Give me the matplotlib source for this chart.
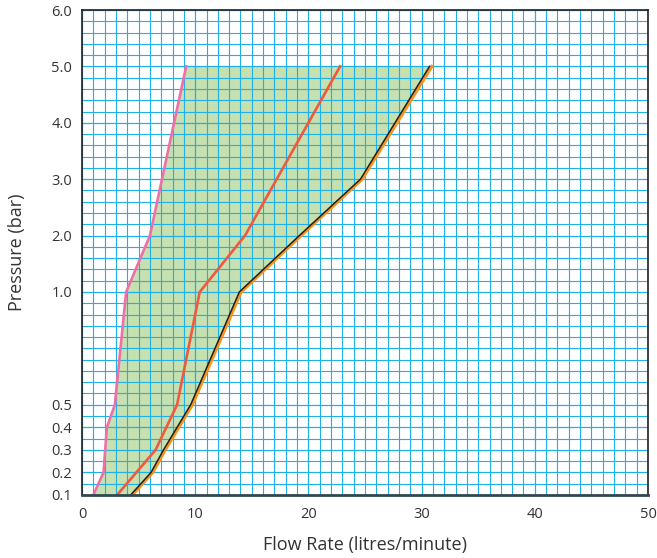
import numpy as np
import matplotlib
matplotlib.use("Agg")
import matplotlib.pyplot as plt
from matplotlib.ticker import FixedLocator, NullFormatter

# ---- data ----
pink_x = [1.0, 1.9, 2.2, 2.9, 3.9, 6.0, 9.2]
pink_p = [0.1, 0.2, 0.4, 0.5, 1.0, 2.0, 5.0]

red_x = [3.1, 6.5, 8.4, 10.4, 14.4, 22.8]
red_p = [0.1, 0.3, 0.5, 1.0, 2.0, 5.0]

black_x = [4.3, 6.1, 7.2, 9.6, 13.9, 19.2, 24.6, 30.7]
black_p = [0.1, 0.2, 0.3, 0.5, 1.0, 2.0, 3.0, 5.0]

orange_x = [4.45, 6.25, 7.35, 9.75, 14.05, 19.35, 24.75, 30.9]
orange_p = [0.1, 0.2, 0.3, 0.5, 1.0, 2.0, 3.0, 5.0]

x_ticks = [0, 10, 20, 30, 40, 50]
y_ticks = [0.1, 0.2, 0.3, 0.4, 0.5, 1.0, 2.0, 3.0, 4.0, 5.0, 6.0]
y_ticklabels = ["0.1", "0.2", "0.3", "0.4", "0.5", "1.0", "2.0", "3.0", "4.0", "5.0", "6.0"]

# piecewise pressure scale (grid units)
scale_p = [0.1, 0.5, 1.0, 6.0]
scale_u = [0.0, 8.0, 18.0, 43.0]

def fwd(p):
    return np.interp(p, scale_p, scale_u)

def inv(u):
    return np.interp(u, scale_u, scale_p)

plt.rcParams['font.family'] = ['Open Sans', 'DejaVu Sans']
text_col = '#333333'

fig = plt.figure(figsize=(6.57, 5.58), dpi=100)
ax = fig.add_axes([82/657, 1 - 495/558, (648-82)/657, (495-10)/558])
ax.set_yscale('function', functions=(fwd, inv))
ax.set_xlim(0, 50)
ax.set_ylim(0.1, 6.0)

# grid
grid_col = '#1fb0e8'
xgrid = np.arange(0, 51, 1)
ygrid = np.concatenate([np.arange(0.1, 0.999, 0.05), np.arange(1.0, 6.01, 0.2)])
ax.xaxis.set_minor_locator(FixedLocator(xgrid))
ax.yaxis.set_minor_locator(FixedLocator(ygrid))
ax.xaxis.set_minor_formatter(NullFormatter())
ax.yaxis.set_minor_formatter(NullFormatter())
ax.xaxis.remove_overlapping_locs = False
ax.yaxis.remove_overlapping_locs = False
ax.grid(which='both', color=grid_col, linewidth=0.8, zorder=1)
ax.set_axisbelow(False)

# fill region between pink and orange, top at 5.0
poly_x = list(pink_x) + list(orange_x[::-1])
poly_p = list(pink_p) + list(orange_p[::-1])
ax.fill(poly_x, poly_p, color='#c6e0b0', zorder=0.5, linewidth=0)

ax.plot(pink_x, pink_p, color='#ef6fa8', lw=1.9, zorder=3)
ax.plot(red_x, red_p, color='#ef5a3f', lw=1.9, zorder=3)
ax.plot(orange_x, orange_p, color='#f7941d', lw=2.3, zorder=3)
ax.plot(black_x, black_p, color='#231f20', lw=1.1, zorder=4)

ax.set_xticks(x_ticks)
ax.set_yticks(y_ticks)
ax.set_yticklabels(y_ticklabels)
ax.tick_params(axis='both', which='both', length=0, labelsize=10.5, colors=text_col)
ax.tick_params(axis='x', pad=9)
ax.tick_params(axis='y', pad=7)

for s in ['left', 'top', 'right']:
    ax.spines[s].set_color('#231f20')
    ax.spines[s].set_linewidth(1.2)
ax.spines['bottom'].set_color('#33474f')
ax.spines['bottom'].set_linewidth(2.0)
for s in ax.spines.values():
    s.set_zorder(5)

ax.set_xlabel('Flow Rate (litres/minute)', fontsize=13, color=text_col, labelpad=10)
ax.set_ylabel('Pressure (bar)', fontsize=13, color=text_col, labelpad=18)

fig.savefig('out.png', dpi=100)
